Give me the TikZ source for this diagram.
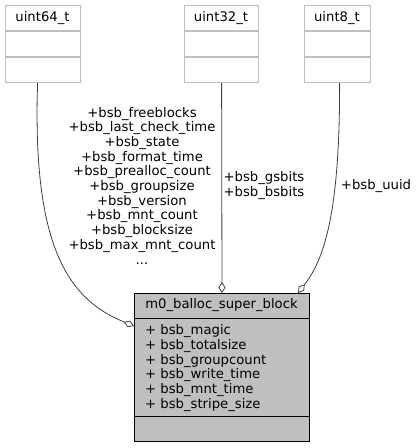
\documentclass[tikz,border=0pt]{standalone}
\usepackage{fontspec}
\setmainfont{DejaVu Sans}
\usetikzlibrary{arrows.meta}
\definecolor{boxgray}{HTML}{BFBFBF}
\definecolor{edgegray}{HTML}{404040}
\tikzset{
  typebox/.style={draw=boxgray, line width=1.2pt, fill=white, inner sep=0pt, anchor=north west, minimum height=77pt},
  classbox/.style={draw=black, line width=1pt, fill=boxgray, inner sep=0pt, anchor=north west, minimum width=175pt, minimum height=148pt},
  txt/.style={font=\fontsize{13.2}{14.7}\selectfont, inner sep=0pt},
  uses/.style={draw=edgegray, line width=0.8pt, -{Diamond[open,length=11pt,width=7pt]}},
}
\begin{document}
\begin{tikzpicture}[x=1pt, y=1pt]
        \useasboundingbox (0,0) rectangle (416,-448);

        % used types
        \node[typebox, minimum width=75pt] (u64) at (5,-5) {};
        \node[typebox, minimum width=74pt] (u32) at (184,-5) {};
        \node[typebox, minimum width=66pt] (u8) at (304,-5) {};
        \node[txt] (u64t) at (42.5,-18) {uint64\_t};
        \node[txt] (u32t) at (221,-18) {uint32\_t};
        \node[txt] (u8t) at (337,-18) {uint8\_t};
        \draw[boxgray, line width=1.2pt] (5,-31) -- (80,-31);
        \draw[boxgray, line width=1.2pt] (5,-57) -- (80,-57);
        \draw[boxgray, line width=1.2pt] (184,-31) -- (258,-31);
        \draw[boxgray, line width=1.2pt] (184,-57) -- (258,-57);
        \draw[boxgray, line width=1.2pt] (304,-31) -- (370,-31);
        \draw[boxgray, line width=1.2pt] (304,-57) -- (370,-57);

        % the struct
        \node[classbox] (main) at (134,-293) {};
        \node[txt] (maint) at (221.5,-305.5) {m0\_balloc\_super\_block};
        \draw[line width=1pt] (134,-318) -- (309,-318);
        \draw[line width=1pt] (134,-416) -- (309,-416);
        \node[txt, align=left, anchor=north west] (fields) at (145,-324.5) {+ bsb\_magic\\+ bsb\_totalsize\\+ bsb\_groupcount\\+ bsb\_write\_time\\+ bsb\_mnt\_time\\+ bsb\_stripe\_size};

        % edges
        \draw[uses] ([xshift=-5.5pt]u64.south) .. controls (32,-250) and (70,-300) .. ([yshift=-33pt]main.north west);
        \draw[uses] (u32.south) -- (main.north);
        \draw[uses] ([xshift=2pt]u8.south) .. controls (340,-220) and (322,-262) .. ([xshift=-12pt]main.north east);

        \node[txt, align=center] (l64) at (142,-185.5) {+bsb\_freeblocks\\+bsb\_last\_check\_time\\+bsb\_state\\+bsb\_format\_time\\+bsb\_prealloc\_count\\+bsb\_groupsize\\+bsb\_version\\+bsb\_mnt\_count\\+bsb\_blocksize\\+bsb\_max\_mnt\_count\\...};
        \node[txt, align=center] (l32) at (264,-185.5) {+bsb\_gsbits\\+bsb\_bsbits};
        \node[txt] (l8) at (376,-186) {+bsb\_uuid};
\end{tikzpicture}
\end{document}
